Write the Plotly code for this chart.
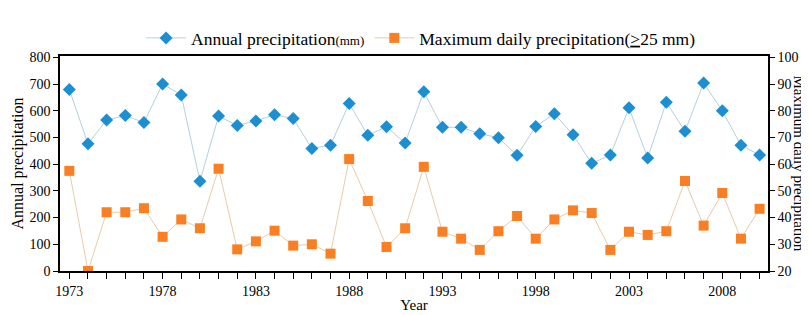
import plotly.graph_objects as go

years = list(range(1973, 2011))
annual = [680, 476, 565, 582, 556, 700, 659, 336, 580, 545, 562, 585, 571,
          459, 471, 627, 508, 540, 479, 671, 538, 538, 514, 499, 433, 541,
          589, 510, 403, 434, 611, 423, 632, 523, 704, 600, 471, 434]
max_daily = [57.5, 20.0, 42.0, 42.0, 43.5, 32.8, 39.3, 36.0, 58.3, 28.1, 31.1,
             35.1, 29.5, 30.0, 26.5, 61.9, 46.2, 29.0, 36.0, 59.0, 34.7, 32.1,
             27.9, 34.9, 40.6, 32.1, 39.3, 42.7, 41.7, 27.9, 34.7, 33.5, 34.9,
             53.7, 37.0, 49.2, 32.1, 43.3]
x_labels = [str(y) if (y - 1973) % 5 == 0 else "" for y in years]
left_ticks = [0, 100, 200, 300, 400, 500, 600, 700, 800]
right_ticks = [20, 30, 40, 50, 60, 70, 80, 90, 100]

FONT = "Liberation Serif"

fig = go.Figure()
fig.add_trace(go.Scatter(
    x=years, y=annual, mode="lines+markers",
    name="Annual precipitation<span style='font-size:13px'>(mm)</span>",
    line=dict(color="#b5d0dc", width=1),
    marker=dict(symbol="diamond", size=10, color="#1b8fd2"),
))
fig.add_trace(go.Scatter(
    x=years, y=max_daily, mode="lines+markers", yaxis="y2",
    name="Maximum daily precipitation(<u>></u>25 mm)",
    line=dict(color="#e8cbaa", width=1),
    marker=dict(symbol="square", size=10, color="#fa7f22"),
))

fig.update_layout(
    width=809, height=315,
    margin=dict(l=52, r=49, t=23, b=39),
    paper_bgcolor="white", plot_bgcolor="white",
    font=dict(family=FONT, size=14, color="black"),
    showlegend=True,
    legend=dict(orientation="h", x=0.51, xanchor="center", y=1.0, yanchor="bottom",
                font=dict(family=FONT, size=17.5), itemwidth=40,
                bgcolor="rgba(0,0,0,0)", tracegroupgap=0),
    xaxis=dict(range=[1972.5, 2010.45], tickvals=years, ticktext=x_labels,
               ticks="outside", ticklen=6, tickcolor="black", tickwidth=1,
               showline=True, linecolor="black", linewidth=1.5, mirror=True,
               showgrid=False, zeroline=False,
               title=dict(text="Year", font=dict(size=15), standoff=2)),
    yaxis=dict(range=[0, 805], tickvals=left_ticks, ticks="outside", ticklen=5,
               tickcolor="black", showline=True, linecolor="black", linewidth=1.5,
               showgrid=False, zeroline=False),
    yaxis2=dict(range=[20, 100.5], tickvals=right_ticks, overlaying="y", side="right",
                ticks="outside", ticklen=5, tickcolor="black", showline=True,
                linecolor="black", linewidth=1.5, showgrid=False, zeroline=False),
    annotations=[
        dict(text="Annual precipitation", textangle=-90,
             xref="paper", yref="paper", x=0.0, y=0.5, xshift=-43,
             xanchor="center", yanchor="middle", showarrow=False,
             font=dict(family=FONT, size=16, color="black")),
        dict(text="Maximum daily precipitation", textangle=90,
             xref="paper", yref="paper", x=1.0, y=0.5, xshift=31,
             xanchor="center", yanchor="middle", showarrow=False,
             font=dict(family=FONT, size=15, color="black")),
    ],
)

fig.write_html("out.html")
